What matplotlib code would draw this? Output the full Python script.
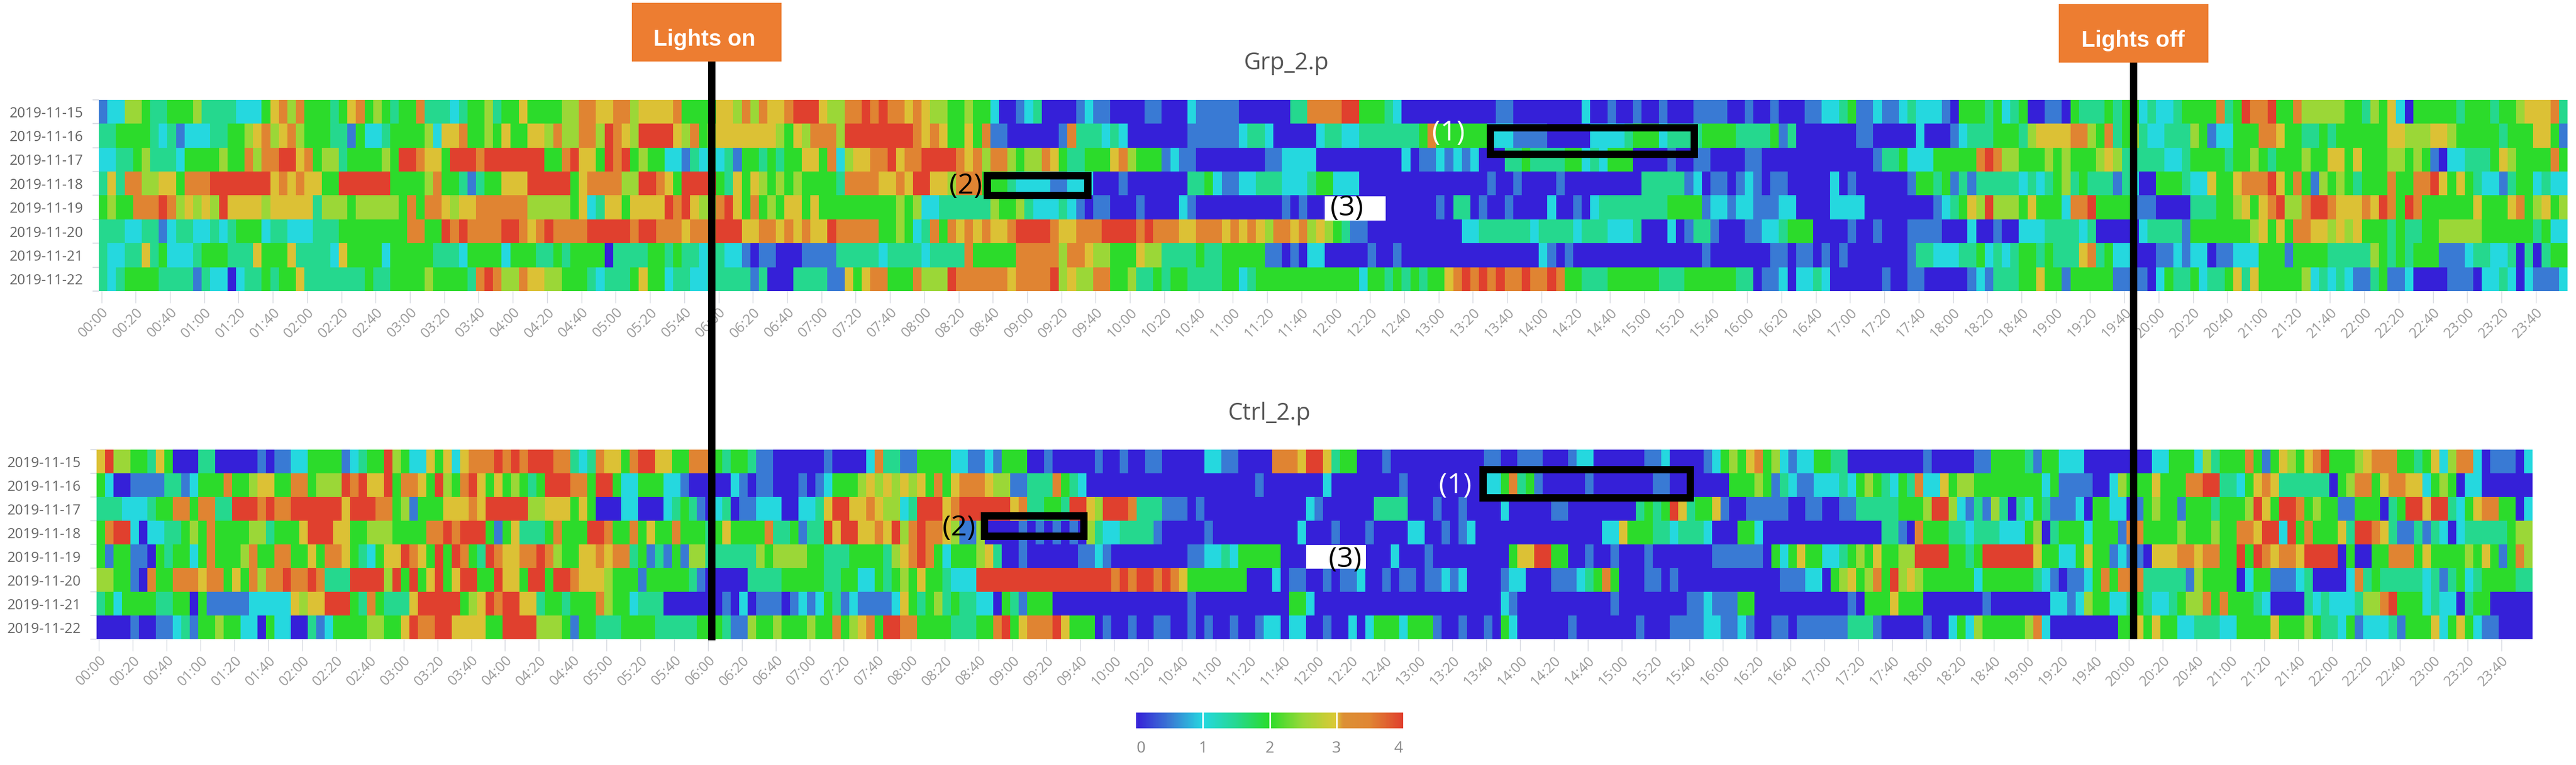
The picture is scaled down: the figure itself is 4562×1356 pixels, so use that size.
import numpy as np
import matplotlib
matplotlib.use("Agg")
import matplotlib.pyplot as plt
from matplotlib.colors import LinearSegmentedColormap
from matplotlib.patches import Rectangle

W, H = 4562, 1356

dates = ["2019-11-15", "2019-11-16", "2019-11-17", "2019-11-18",
         "2019-11-19", "2019-11-20", "2019-11-21", "2019-11-22"]
time_labels = ["%02d:%02d" % (h, m) for h in range(24) for m in (0, 20, 40)]

# one digit per 5 min bin, value = digit / 2, one group per hour
grp_15 = "122554334445 333322246757 444346745434 473332344534 464444557766 775666674444 665757667888 655778787767 655445442001 230000121100 001100021111 100000033777 788444320000 000000011000 000002001001 001000111100 100100011223 411211232221 044434234001 104333434423 223444473487 784475555544 354620444443 444344566673"
grp_16 = "334444323122 233445675675 444331422344 445266744546 446657557758 765888865745 666666654657 775888888887 676446471100 000017333232 000000011111 123320000023 322333333347 444444222111 100000222234 442333344443 333413000000 011000002000 123334443566 667754734532 233354122444 776443343444 444665556654 444434446641"
grp_17 = "223345333244 445447577886 745534444548 876648887888 888844786648 784544221323 231443434466 472566778677 888876757754 557643344467 544412110000 000011222200 000000002011 212120003343 333442324440 000100110000 110000000000 000133422244 444787554445 454445653333 322344443445 434445446646 444554541022 333465444474"
grp_18 = "363775566477 788888886767 664488888844 445744313446 668888846777 755887648888 436465454544 443777766768 866577744432 222112220001 000000033421 122333222344 222000000000 000000100100 001000000000 333331201101 210110000020 100000014434 131333332323 453433313200 444322644677 786474154543 444744778646 432213442322"
grp_19 = "454477787565 658666656666 635554555554 747765667777 775555546236 646666878655 786474546646 444444444545 223333335445 322232101100 010000210000 000000101000 000000000000 103301001000 020010233333 333444412212 211122000022 220000000012 346585554644 427784444111 000033344564 678557887666 768748744444 464446745645"
grp_20 = "333223312332 232344423322 233344444444 774487877778 876787777888 887887776777 888667767676 687777744542 374767676678 888766777888 878777667776 767657767565 431100000000 000223333332 333323332223 000201331000 112234440000 100100011110 002001002223 333230000023 333144444445 646477665656 444343344555 554444443422"
grp_21 = "322336342223 444333644463 333264444244 444333244442 444334344440 333344343323 322101100011 113333323333 233337444447 777757765544 465533334334 444411010220 000010010000 000000000000 210100000000 000000010000 000110110101 000000013322 233423234434 333673422000 112122011222 444144443333 354343444111 233223030344"
grp_22 = "323444433331 322023343446 333333343344 445444437875 576655444323 334644233223 333313000333 311646774447 555877777767 777856557744 533434433334 423444444444 444244343434 467878787787 787443334444 443334444443 301120223200 000010011000 001213334464 414444411110 243342334636 444445232321 134112000011 102232021112"

ctrl_15 = "685544364000 330000010112 244441234485 422646267778 787888773237 664788664477 743443110000 001000027331 144442211214 440010000010 010011000002 211000077768 863440001000 000000001100 111000122000 000112000012 454674521224 433000000000 100000114444 314422200000 000224442534 447414654678 444567774434 625772011102"
ctrl_16 = "420011113312 444744566447 745558786684 776485478646 454348887748 842244422100 000210110001 012444565656 564746777655 113337432000 000000000000 000001000000 020000000010 000000002247 341000001000 000011000000 044454132112 223245432437 226455444444 442411110025 444644477883 324676333333 045774677662 454022000000"
ctrl_17 = "333222344774 773388878778 888886888774 514446667688 888556664640 002200023431 023011222002 236886676552 388867888888 673344388658 887333111010 000000000002 100000033330 001001000020 000011000000 003434863446 100111110011 001133333444 588521315303 243111204422 014544144434 445864887454 411444034886 883246774402"
ctrl_18 = "478820223345 474444553444 688866445554 444778788841 463334744488 744746447444 346444473341 338688667685 787765115000 010101010532 233331000001 000000000020 001000100002 200101200000 000000000022 644433233320 004420000000 000000033107 444332333222 450344424441 774444544454 477688284744 463887631131 320233333455"
ctrl_19 = "414411043442 474445744774 464776432466 876484874387 667787544667 677341314155 333333545555 443334444356 787424445630 010000001121 000000000112 232444440000 000000000200 010000000004 668844001001 000100000001 111110424644 223454644558 888443488888 864422464412 110666776774 484876776888 804004477746 444454641475"
ctrl_20 = "554410744777 677464757787 787333888858 484684688448 664884887666 544414444431 000003333444 443344224345 464432228888 888888888888 787887876444 444400020110 010112001011 011212000012 200011123474 000110100000 000000011122 045645748565 444444244444 432101124747 773333315444 402441112300 002734333332 313423444433"
ctrl_21 = "342444433440 411111222226 566888437433 368888845687 886634434447 544233300000 001020111012 124312111126 434534332204 314440000000 000000000100 000000000442 000000000000 000000000021 000000000001 000000001121 114400000000 000104446444 000000010000 000221254422 343223455747 444320000323 222355784442 322034400000"
ctrl_22 = "000010011231 445442204220 031244445544 687788666644 888855541443 334444333334 443115445444 544745674887 744443334478 467778644401 001001100101 001001220220 010020244424 441001001042 000000100000 001000111122 112100110111 111333100000 100242544444 572000000004 464644223332 244446444543 324122231444 624642110000"

grp_rows = [grp_15, grp_16, grp_17, grp_18, grp_19, grp_20, grp_21, grp_22]
ctrl_rows = [ctrl_15, ctrl_16, ctrl_17, ctrl_18, ctrl_19, ctrl_20, ctrl_21, ctrl_22]


def to_matrix(rows):
    return np.array([[int(c) / 2 for c in r.replace(" ", "")] for r in rows])


stops = [(0, "#3520d8"), (0.5, "#3a7ad4"), (1, "#25d8e0"), (1.5, "#25d890"), (2, "#2bdc2b"),
         (2.5, "#9ad838"), (3, "#dcc835"), (3.1, "#dc9035"), (3.5, "#e08633"), (4, "#e0402e")]
cmap = LinearSegmentedColormap.from_list("activity", [(v / 4, c) for v, c in stops])

fig = plt.figure(figsize=(W / 100, H / 100), dpi=100, facecolor="white")
plt.rcParams["font.family"] = ["Open Sans", "DejaVu Sans"]


def px_axes(x0, y0, x1, y1):
    return fig.add_axes([x0 / W, 1 - y1 / H, (x1 - x0) / W, (y1 - y0) / H])


def heat_panel(box, rows, tick_shift):
    ax = px_axes(*box)
    im = ax.imshow(to_matrix(rows), cmap=cmap, vmin=0, vmax=4, aspect="auto",
                   interpolation="nearest", extent=[0, 288, 8, 0])
    ax.set_xlim(0, 288)
    ax.set_ylim(8, 0)
    ax.set_xticks(np.arange(len(time_labels)) * 4 + tick_shift)
    ax.set_xticklabels(time_labels, rotation=45, ha="right", rotation_mode="anchor",
                       fontsize=18, color="#9a9a9a")
    ax.tick_params(axis="x", length=15, width=1, color="#d5d8e0", pad=3)
    ax.set_yticks(np.arange(9))
    ax.set_yticklabels([])
    ax.tick_params(axis="y", length=8, width=1.5, color="#dcdfe6")
    ax.set_yticks(np.arange(8) + 0.5, minor=True)
    ax.set_yticklabels(dates, minor=True, fontsize=18, color="#666666")
    ax.tick_params(axis="y", which="minor", length=0, pad=20)
    for s in ax.spines.values():
        s.set_visible(False)
    return im


im = heat_panel((175, 177, 4547, 516), grp_rows, 0.3)
heat_panel((171, 797, 4485, 1133), ctrl_rows, 0.3)

# colour bar
cax = px_axes(2012, 1263, 2485, 1291)
cb = fig.colorbar(im, cax=cax, orientation="horizontal")
cb.outline.set_visible(False)
cb.set_ticks([0.07, 1, 2, 3, 3.93])
cb.set_ticklabels(["0", "1", "2", "3", "4"], fontsize=20, color="#888888")
cax.tick_params(length=0, pad=16)
for v in (1, 2, 3):
    cax.axvline(v, color="white", lw=2)


def px_text(x, y, s, **kw):
    fig.text(x / W, 1 - y / H, s, ha="center", va="center", zorder=12, **kw)


def px_rect(x0, y0, x1, y1, **kw):
    fig.add_artist(Rectangle((x0 / W, 1 - y1 / H), (x1 - x0) / W, (y1 - y0) / H,
                             transform=fig.transFigure, zorder=10, **kw))


px_text(2278, 112, "Grp_2.p", fontsize=30, color="#555555")
px_text(2248, 733, "Ctrl_2.p", fontsize=30, color="#555555")

# lights on / off lines and tags
px_rect(1253.5, 105, 1266.5, 1135, facecolor="black", edgecolor="none")
px_rect(3771.5, 108, 3784.5, 1133, facecolor="black", edgecolor="none")
px_rect(1119, 5, 1384, 109, facecolor="#ed7d31", edgecolor="none")
px_rect(3646, 7, 3911, 111, facecolor="#ed7d31", edgecolor="none")
px_text(1247, 70, "Lights on", fontsize=29, color="white", fontweight="bold", family="Liberation Sans")
px_text(3778, 72, "Lights off", fontsize=29, color="white", fontweight="bold", family="Liberation Sans")

# annotation boxes
box_lw = 9.4
for x0, y0, x1, y1 in [(2639, 226, 3000, 273), (1748, 311, 1926, 346),
                       (2626, 832, 2993, 882), (1743, 914, 1919, 950)]:
    px_rect(x0, y0, x1, y1, facecolor="none", edgecolor="black", lw=box_lw)

px_rect(2346, 348, 2454, 391, facecolor="white", edgecolor="none")
px_rect(2313, 966, 2419, 1008, facecolor="white", edgecolor="none")

px_text(2565, 236, "(1)", fontsize=36, color="white")
px_text(1710, 330, "(2)", fontsize=36, color="black")
px_text(2385, 369, "(3)", fontsize=36, color="black")
px_text(2577, 861, "(1)", fontsize=36, color="white")
px_text(1698, 936, "(2)", fontsize=36, color="black")
px_text(2382, 992, "(3)", fontsize=36, color="black")

fig.savefig("out.png", dpi=100)
